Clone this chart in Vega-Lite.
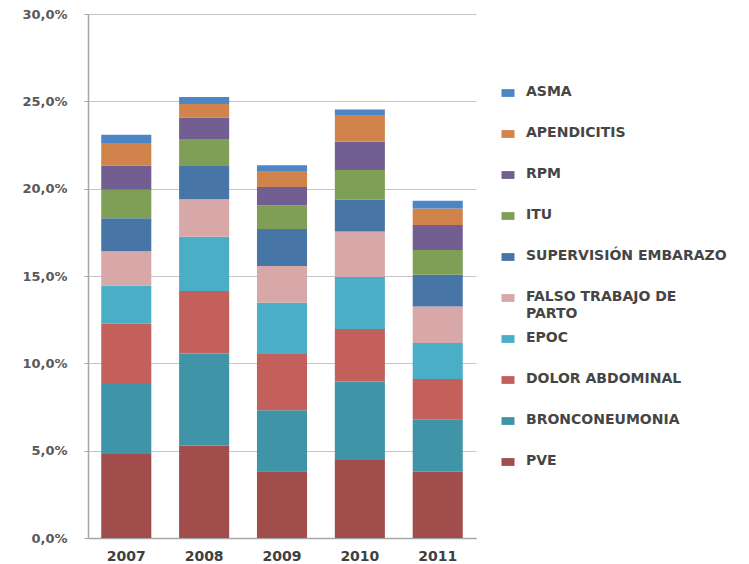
{
  "$schema": "https://vega.github.io/schema/vega-lite/v6.json",
  "width": 388,
  "height": 524,
  "autosize": "none",
  "padding": {"left": 88, "top": 14, "right": 273, "bottom": 26},
  "background": "white",
  "data": {
    "values": [
      {"year": "2007", "cause": "PVE", "share": 0.0481},
      {"year": "2007", "cause": "BRONCONEUMONIA", "share": 0.0406},
      {"year": "2007", "cause": "DOLOR ABDOMINAL", "share": 0.0339},
      {"year": "2007", "cause": "EPOC", "share": 0.0220},
      {"year": "2007", "cause": "FALSO TRABAJO DE PARTO", "share": 0.0195},
      {"year": "2007", "cause": "SUPERVISIÓN EMBARAZO", "share": 0.0189},
      {"year": "2007", "cause": "ITU", "share": 0.0164},
      {"year": "2007", "cause": "RPM", "share": 0.0138},
      {"year": "2007", "cause": "APENDICITIS", "share": 0.0130},
      {"year": "2007", "cause": "ASMA", "share": 0.0046},

      {"year": "2008", "cause": "PVE", "share": 0.0529},
      {"year": "2008", "cause": "BRONCONEUMONIA", "share": 0.0527},
      {"year": "2008", "cause": "DOLOR ABDOMINAL", "share": 0.0358},
      {"year": "2008", "cause": "EPOC", "share": 0.0311},
      {"year": "2008", "cause": "FALSO TRABAJO DE PARTO", "share": 0.0214},
      {"year": "2008", "cause": "SUPERVISIÓN EMBARAZO", "share": 0.0191},
      {"year": "2008", "cause": "ITU", "share": 0.0155},
      {"year": "2008", "cause": "RPM", "share": 0.0122},
      {"year": "2008", "cause": "APENDICITIS", "share": 0.0078},
      {"year": "2008", "cause": "ASMA", "share": 0.0040},

      {"year": "2009", "cause": "PVE", "share": 0.0382},
      {"year": "2009", "cause": "BRONCONEUMONIA", "share": 0.0350},
      {"year": "2009", "cause": "DOLOR ABDOMINAL", "share": 0.0321},
      {"year": "2009", "cause": "EPOC", "share": 0.0294},
      {"year": "2009", "cause": "FALSO TRABAJO DE PARTO", "share": 0.0210},
      {"year": "2009", "cause": "SUPERVISIÓN EMBARAZO", "share": 0.0212},
      {"year": "2009", "cause": "ITU", "share": 0.0135},
      {"year": "2009", "cause": "RPM", "share": 0.0106},
      {"year": "2009", "cause": "APENDICITIS", "share": 0.0091},
      {"year": "2009", "cause": "ASMA", "share": 0.0033},

      {"year": "2010", "cause": "PVE", "share": 0.0447},
      {"year": "2010", "cause": "BRONCONEUMONIA", "share": 0.0449},
      {"year": "2010", "cause": "DOLOR ABDOMINAL", "share": 0.0300},
      {"year": "2010", "cause": "EPOC", "share": 0.0298},
      {"year": "2010", "cause": "FALSO TRABAJO DE PARTO", "share": 0.0261},
      {"year": "2010", "cause": "SUPERVISIÓN EMBARAZO", "share": 0.0182},
      {"year": "2010", "cause": "ITU", "share": 0.0170},
      {"year": "2010", "cause": "RPM", "share": 0.0161},
      {"year": "2010", "cause": "APENDICITIS", "share": 0.0150},
      {"year": "2010", "cause": "ASMA", "share": 0.0035},

      {"year": "2011", "cause": "PVE", "share": 0.0380},
      {"year": "2011", "cause": "BRONCONEUMONIA", "share": 0.0300},
      {"year": "2011", "cause": "DOLOR ABDOMINAL", "share": 0.0231},
      {"year": "2011", "cause": "EPOC", "share": 0.0206},
      {"year": "2011", "cause": "FALSO TRABAJO DE PARTO", "share": 0.0209},
      {"year": "2011", "cause": "SUPERVISIÓN EMBARAZO", "share": 0.0181},
      {"year": "2011", "cause": "ITU", "share": 0.0142},
      {"year": "2011", "cause": "RPM", "share": 0.0143},
      {"year": "2011", "cause": "APENDICITIS", "share": 0.0095},
      {"year": "2011", "cause": "ASMA", "share": 0.0044}
    ]
  },
  "transform": [
    {
      "calculate": "{'PVE': 0, 'BRONCONEUMONIA': 1, 'DOLOR ABDOMINAL': 2, 'EPOC': 3, 'FALSO TRABAJO DE PARTO': 4, 'SUPERVISIÓN EMBARAZO': 5, 'ITU': 6, 'RPM': 7, 'APENDICITIS': 8, 'ASMA': 9}[datum.cause]",
      "as": "stackRank"
    }
  ],
  "mark": {"type": "bar"},
  "encoding": {
    "x": {
      "field": "year",
      "type": "nominal",
      "scale": {"paddingInner": 0.357, "paddingOuter": 0.17},
      "axis": {
        "title": null,
        "labelAngle": 0,
        "ticks": false,
        "labelPadding": 11,
        "labelFont": "DejaVu Sans",
        "labelFontSize": 14,
        "labelFontWeight": "bold",
        "labelColor": "#404040",
        "domainColor": "#A6A6A6",
        "domainWidth": 1.5
      }
    },
    "y": {
      "field": "share",
      "type": "quantitative",
      "stack": "zero",
      "scale": {"domain": [0, 0.3], "nice": false},
      "axis": {
        "title": null,
        "values": [0, 0.05, 0.1, 0.15, 0.2, 0.25, 0.3],
        "labelExpr": "replace(format(datum.value, '.1%'), '.', ',')",
        "labelFont": "DejaVu Sans",
        "labelFontSize": 13,
        "labelFontWeight": "bold",
        "labelColor": "#595959",
        "labelPadding": 17,
        "tickSize": 4,
        "tickColor": "#A6A6A6",
        "domainColor": "#A6A6A6",
        "domainWidth": 1.5,
        "gridColor": "#C4C4C4",
        "gridWidth": 1.2
      }
    },
    "color": {
      "field": "cause",
      "type": "nominal",
      "scale": {
        "domain": ["ASMA", "APENDICITIS", "RPM", "ITU", "SUPERVISIÓN EMBARAZO", "FALSO TRABAJO DE PARTO", "EPOC", "DOLOR ABDOMINAL", "BRONCONEUMONIA", "PVE"],
        "range": ["#4D86C5", "#D0834A", "#725E91", "#7F9F57", "#4775A5", "#D7A8A7", "#4AAEC6", "#C4605C", "#4094A7", "#A04D4B"]
      },
      "legend": {
        "title": null,
        "orient": "none",
        "legendX": 413,
        "legendY": 72,
        "symbolType": "M-1,-0.6H1V0.6H-1Z",
        "symbolSize": 169,
        "symbolStrokeWidth": 0,
        "labelFont": "DejaVu Sans",
        "labelFontSize": 14,
        "labelFontWeight": "bold",
        "labelColor": "#454545",
        "labelOffset": 11,
        "labelLimit": 400,
        "labelBaseline": "top",
        "gridAlign": "all",
        "rowPadding": 10,
        "labelExpr": "datum.label == 'FALSO TRABAJO DE PARTO' ? ['FALSO TRABAJO DE', 'PARTO'] : datum.label",
        "encoding": {
          "labels": {"dy": {"value": -8}, "lineHeight": {"value": 17}}
        }
      }
    },
    "order": {"field": "stackRank", "type": "quantitative", "sort": "ascending"}
  },
  "config": {
    "view": {"stroke": null},
    "axis": {"gridDash": []}
  }
}
